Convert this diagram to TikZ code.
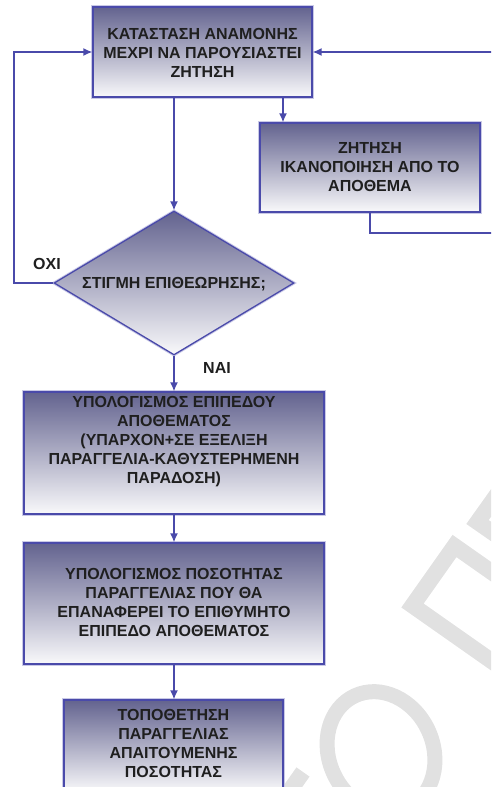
\documentclass[tikz,border=0pt]{standalone}
\usepackage{fontspec}
\setmainfont{Liberation Sans}
\usetikzlibrary{arrows.meta,shapes.geometric}
\definecolor{edgec}{HTML}{4A4AAA}
\definecolor{topc}{HTML}{63638F}
\definecolor{wmark}{HTML}{E1E1E1}
\tikzset{
  x=1pt, y=-1pt,
  shadebox/.style={draw=edgec, line width=1.3pt, top color=topc, bottom color=white!96!topc,
    inner sep=0pt, preaction={draw=edgec!30, line width=3.2pt}},
  rectbox/.style={shadebox, rectangle},
  decision/.style={shadebox, diamond, minimum width=240pt, minimum height=144pt},
  lbl/.style={font=\bfseries\fontsize{16}{19}\selectfont, align=center, text=black!88, inner sep=0pt},
  conn/.style={draw=edgec, line width=1.4pt},
  arr/.style={conn, -{Latex[length=9pt,width=8pt]}},
  wm/.style={draw=wmark, line width=16pt, line join=miter}
}
\begin{document}
\begin{tikzpicture}
\useasboundingbox (0,0) rectangle (491,787);
\clip (0,0) rectangle (491,787);
% watermark
\draw[wm] (520,592) -- (454.5,546) -- (412.5,605.5) -- (520,681);
\draw[wm] (506,482) -- (477.5,522) -- (512,546);
\draw[wm, line width=15pt] (381,752) ellipse[x radius=52, y radius=62, rotate=25];
\draw[wm] (303,772) -- (262,830);
% boxes
\node[rectbox, minimum width=219pt, minimum height=90pt] (b1) at (202.5,52) {};
\node[lbl] (t1) at (202.5,53) {ΚΑΤΑΣΤΑΣΗ ΑΝΑΜΟΝΗΣ\\ΜΕΧΡΙ ΝΑ ΠΑΡΟΥΣΙΑΣΤΕΙ\\ΖΗΤΗΣΗ};
\node[rectbox, minimum width=220pt, minimum height=89pt] (b2) at (370,167.5) {};
\node[lbl] (t2) at (370,167.5) {ΖΗΤΗΣΗ\\ΙΚΑΝΟΠΟΙΗΣΗ ΑΠΟ ΤΟ\\ΑΠΟΘΕΜΑ};
\node[decision] (d) at (174,283) {};
\node[lbl] (td) at (174,284) {ΣΤΙΓΜΗ ΕΠΙΘΕΩΡΗΣΗΣ;};
\node[rectbox, minimum width=300pt, minimum height=122pt] (b3) at (174,453) {};
\node[lbl] (t3) at (174,442) {ΥΠΟΛΟΓΙΣΜΟΣ ΕΠΙΠΕΔΟΥ\\ΑΠΟΘΕΜΑΤΟΣ\\(ΥΠΑΡΧΟΝ+ΣΕ ΕΞΕΛΙΞΗ\\ΠΑΡΑΓΓΕΛΙΑ-ΚΑΘΥΣΤΕΡΗΜΕΝΗ\\ΠΑΡΑΔΟΣΗ)};
\node[rectbox, minimum width=300pt, minimum height=121pt] (b4) at (174,603.5) {};
\node[lbl] (t4) at (174,602) {ΥΠΟΛΟΓΙΣΜΟΣ ΠΟΣΟΤΗΤΑΣ\\ΠΑΡΑΓΓΕΛΙΑΣ ΠΟΥ ΘΑ\\ΕΠΑΝΑΦΕΡΕΙ ΤΟ ΕΠΙΘΥΜΗΤΟ\\ΕΠΙΠΕΔΟ ΑΠΟΘΕΜΑΤΟΣ};
\node[rectbox, minimum width=219pt, minimum height=92pt] (b5) at (173.5,746) {};
\node[lbl] (t5) at (173.5,743.5) {ΤΟΠΟΘΕΤΗΣΗ\\ΠΑΡΑΓΓΕΛΙΑΣ\\ΑΠΑΙΤΟΥΜΕΝΗΣ\\ΠΟΣΟΤΗΤΑΣ};
% labels
\node[lbl] (no) at (47,264) {ΟΧΙ};
\node[lbl] (yes) at (217,368) {ΝΑΙ};
% connectors
\coordinate (lt) at (14,52);
\coordinate (rb) at (505,233);
\coordinate (rt) at (505,52);
\draw[arr] (d.north |- b1.south) -- (d.north);
\draw[arr] ([xshift=80.5pt]b1.south) -- ([xshift=80.5pt]b1.south |- b2.north);
\draw[arr] (b2.south) |- (rb) -- (rt) -- (b1.east);
\draw[arr] (d.west) -| (lt) -- (b1.west);
\draw[arr] (d.south) -- (b3.north);
\draw[arr] (b3.south) -- (b4.north);
\draw[arr] (b4.south) -- (b4.south |- b5.north);
\end{tikzpicture}
\end{document}
